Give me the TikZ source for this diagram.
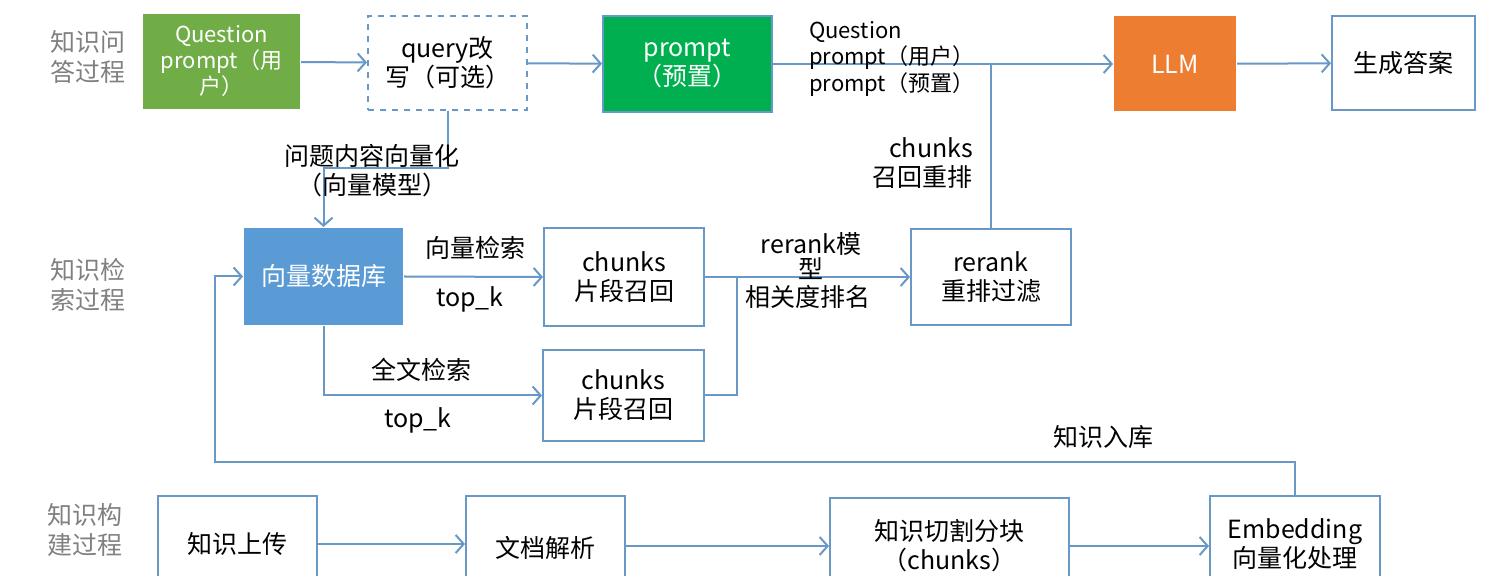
\documentclass[tikz,border=0pt]{standalone}
\usepackage{fontspec}
\setmainfont{Noto Sans CJK SC}
\usetikzlibrary{arrows.meta}

\definecolor{linie}{RGB}{104,152,198}
\definecolor{hellgruen}{RGB}{112,173,71}
\definecolor{gruen}{RGB}{0,176,80}
\definecolor{orange}{RGB}{237,125,49}
\definecolor{blau}{RGB}{91,155,213}
\definecolor{grau}{RGB}{128,128,128}

\tikzset{
  kasten/.style={draw=linie, line width=1pt, align=center, inner sep=0pt,
    font=\fontsize{12.5}{14.5}\selectfont},
  voll/.style={kasten, text=white},
  phase/.style={text=grau, align=center, font=\fontsize{12.5}{15}\selectfont},
  beschr/.style={align=center, font=\fontsize{12.5}{14.5}\selectfont},
  pfeil/.style={draw=linie, line width=1pt, -{Straight Barb[length=4pt,width=9pt]}},
  linie/.style={draw=linie, line width=1pt}
}

\begin{document}
\begin{tikzpicture}[x=0.5pt, y=-0.5pt]

  \useasboundingbox (0,0) rectangle (1498,576);

  % ----- Phasen links -----
  \node[phase] (p1) at (88,57) {知识问\\答过程};
  \node[phase] (p2) at (88,285) {知识检\\索过程};
  \node[phase] (p3) at (85,530) {知识构\\建过程};

  % ----- Wissensfrage -----
  \node[voll, fill=hellgruen, draw=none, minimum width=78.5pt, minimum height=47.5pt,
        font=\fontsize{11}{13}\selectfont] (frage) at (221.5,61.5) {Question\\prompt（用\\户）};
  \node[kasten, dashed, minimum width=79.5pt, minimum height=47pt] (query) at (447.5,63) {query改\\写（可选）};
  \node[voll, fill=gruen, minimum width=84.5pt, minimum height=48pt] (prompt) at (687.5,64) {prompt\\（预置）};
  \node[voll, fill=orange, draw=none, minimum width=61pt, minimum height=47.5pt] (llm) at (1175,64) {LLM};
  \node[kasten, minimum width=71.5pt, minimum height=47pt] (antwort) at (1403.5,63) {生成答案};

  \draw[pfeil] (frage) -- (query);
  \draw[pfeil] (query) -- (prompt);
  \draw[pfeil] (prompt.east) -- (llm.west);
  \draw[pfeil] (llm) -- (antwort);

  \node[anchor=west, align=left, font=\fontsize{11}{13.3}\selectfont] (inhalt) at (802,59)
    {Question\\prompt（用户）\\prompt（预置）};

  % ----- Wissenssuche -----
  \node[voll, fill=blau, draw=none, minimum width=79.5pt, minimum height=48.5pt] (vdb) at (323.5,276.5) {向量数据库};
  \node[kasten, minimum width=80pt, minimum height=49pt] (chunksa) at (624,277) {chunks\\片段召回};
  \node[kasten, minimum width=80.5pt, minimum height=45.5pt] (chunksb) at (623.5,395.5) {chunks\\片段召回};
  \node[kasten, minimum width=80pt, minimum height=48pt] (rerank) at (991,277) {rerank\\重排过滤};

  \coordinate (knick) at (447.5,168);
  \draw[pfeil] (query.south) |- (knick) -| (vdb.north);
  \node[beschr] (vektorisieren) at (372,171) {问题内容向量化\\（向量模型）};

  \draw[pfeil] (vdb.east) -- (chunksa.west);
  \node[beschr] (vsuche) at (475,248) {向量检索};
  \node[beschr] (topka) at (470,299) {top\_k};

  \draw[pfeil] (vdb.south) |- (chunksb.west);
  \node[beschr] (vollsuche) at (421,370) {全文检索};
  \node[beschr] (topkb) at (418,420) {top\_k};

  \coordinate (sammel) at (737,277);
  \draw[linie] (chunksb.east) -| (sammel);
  \draw[pfeil] (chunksa.east) -- (rerank.west);
  \node[beschr, font=\fontsize{12.5}{11}\selectfont] (modell) at (811,256) {rerank模\\型};
  \node[beschr] (rang) at (808,297) {相关度排名};

  \coordinate (treffen) at (rerank.north |- prompt.east);
  \draw[linie] (rerank.north) -- (treffen);
  \node[beschr, anchor=east, align=right] (zurueck) at (980,163) {chunks\\召回重排};

  % ----- Wissensaufbau -----
  \node[kasten, minimum width=79.5pt, minimum height=48pt] (upload) at (237.5,544) {知识上传};
  \node[kasten, minimum width=79.5pt, minimum height=52pt] (parse) at (545.5,548) {文档解析};
  \node[kasten, minimum width=119.5pt, minimum height=48pt] (split) at (949.5,546) {知识切割分块\\（chunks）};
  \node[kasten, minimum width=85pt, minimum height=48pt] (embed) at (1295,544) {Embedding\\向量化处理};

  \draw[pfeil] (upload.east) -- (upload.east -| parse.west);
  \draw[pfeil] (parse.east |- split.west) -- (split.west);
  \draw[pfeil] (split.east) -- (split.east -| embed.west);

  \coordinate (rueck) at (215,462);
  \draw[pfeil] (embed.north) |- (rueck) |- (vdb.west);
  \node[beschr] (eingang) at (1103,437) {知识入库};

\end{tikzpicture}
\end{document}
